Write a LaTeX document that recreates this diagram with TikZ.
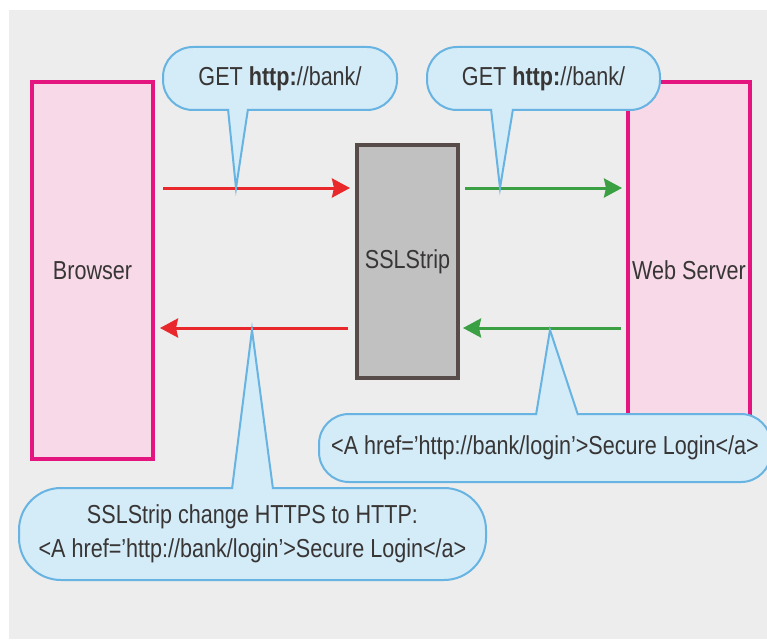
\documentclass[tikz,border=0pt]{standalone}
\usepackage{fontspec}
\setmainfont[FakeStretch=0.83]{Liberation Sans}
\usepackage{tikz}
\usetikzlibrary{arrows.meta}
\definecolor{sfondo}{HTML}{EDEDED}
\definecolor{magenta}{HTML}{E4157F}
\definecolor{rosa}{HTML}{F7D9E8}
\definecolor{grigio}{HTML}{C1C1C1}
\definecolor{bordo}{HTML}{574C4A}
\definecolor{rosso}{HTML}{E8282B}
\definecolor{verde}{HTML}{3AA043}
\definecolor{azzurro}{HTML}{D4EBF8}
\definecolor{celeste}{HTML}{67B3E1}
\definecolor{testo}{HTML}{383535}

\begin{document}
\begin{tikzpicture}[x=1pt, y=-1pt,
    every node/.style={font=\fontsize{26}{34}\selectfont, text=testo},
    host/.style={rectangle, draw=magenta, fill=rosa, line width=4pt, inner sep=0pt},
    proxy/.style={rectangle, draw=bordo, fill=grigio, line width=4pt, inner sep=0pt},
    fumetto/.style={rectangle, draw=celeste, fill=azzurro, line width=2pt, rounded corners=30pt, inner sep=0pt, align=center},
    freccia/.style={line width=3pt, -{Stealth[length=18pt, width=19pt, inset=2pt]}}]
      \useasboundingbox (0,0) rectangle (767,639);
      \fill[sfondo] (9,10) rectangle (767,639);

      % Riquadri
      \node (browser) at (92.5,270.5) [host, minimum width=121pt, minimum height=377pt] {Browser};
      \node (server) at (689,270.5) [host, minimum width=122pt, minimum height=377pt] {Web Server};
      \node (ssl) at (407.5,261.5) [proxy, minimum width=101pt, minimum height=233pt] {SSLStrip};

      % Frecce
      \coordinate (alto) at (0,188);
      \coordinate (basso) at (0,328);
      \draw[freccia, rosso, shorten <=8pt, shorten >=5pt] (browser.east |- alto) -- (ssl.west |- alto);
      \draw[freccia, verde, shorten <=5pt, shorten >=4pt] (ssl.east |- alto) -- (server.west |- alto);
      \draw[freccia, verde, shorten <=5pt, shorten >=3pt] (server.west |- basso) -- (ssl.east |- basso);
      \draw[freccia, rosso, shorten <=7pt, shorten >=5pt] (ssl.west |- basso) -- (browser.east |- basso);

      % Fumetti
      \node (get1) at (280,78.5) [fumetto, minimum width=234pt, minimum height=63pt] {GET \textbf{http:}//bank/};
      \fill[azzurro] (228,107) -- (236,188) -- (248,107) -- cycle;
      \draw[celeste, line width=2pt] (228,109) -- (236,188) -- (248,109);

      \node (get2) at (543.5,78.5) [fumetto, minimum width=233pt, minimum height=63pt] {GET \textbf{http:}//bank/};
      \fill[azzurro] (491,107) -- (500,188) -- (513,107) -- cycle;
      \draw[celeste, line width=2pt] (491,109) -- (500,188) -- (513,109);

      \node (login) at (545,448) [fumetto, minimum width=452pt, minimum height=68pt] {<A href=’http://bank/login’>Secure Login</a>};
      \fill[azzurro] (536,417) -- (550,330) -- (578,417) -- cycle;
      \draw[celeste, line width=2pt] (536,415) -- (550,330) -- (578,415);

      \node (strip) at (252.5,534) [fumetto, rounded corners=42pt, minimum width=467pt, minimum height=92pt] {SSLStrip change HTTPS to HTTP:\\<A href=’http://bank/login’>Secure Login</a>};
      \fill[azzurro] (232,491) -- (252,330) -- (273,491) -- cycle;
      \draw[celeste, line width=2pt] (232,489) -- (252,330) -- (273,489);
\end{tikzpicture}
\end{document}
